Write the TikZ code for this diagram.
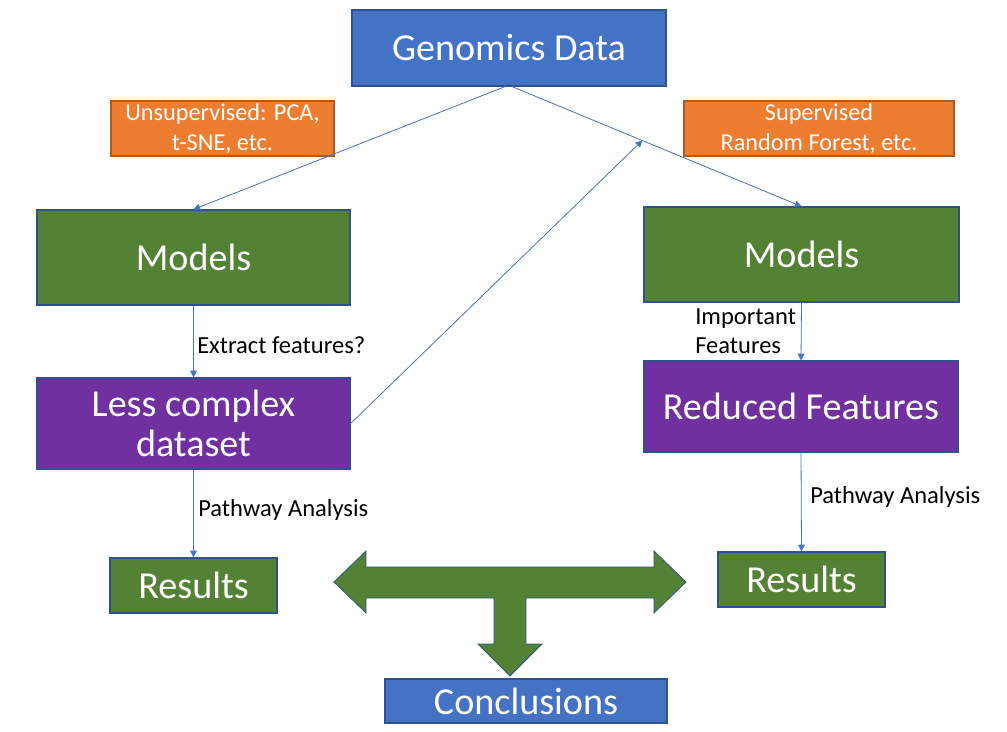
\documentclass[tikz,border=0pt]{standalone}
\usepackage{fontspec}
\setmainfont{Carlito}
\usepackage{tikz}
\usetikzlibrary{calc,arrows.meta}

\definecolor{boxblue}{HTML}{4472C4}
\definecolor{edgeblue}{HTML}{2F528F}
\definecolor{boxgreen}{HTML}{548235}
\definecolor{boxpurple}{HTML}{7030A0}
\definecolor{boxorange}{HTML}{ED7D31}
\definecolor{edgeorange}{HTML}{AE5A21}

\begin{document}
\begin{tikzpicture}[x=0.75pt,y=-0.75pt,
	bigbox/.style={draw=edgeblue,line width=0.9pt,text=white,inner sep=0pt,align=center,font=\fontsize{28.6}{30.5}\selectfont},
	tagbox/.style={draw=edgeorange,fill=boxorange,line width=0.9pt,text=white,inner sep=0pt,align=center,font=\fontsize{18.2}{22}\selectfont},
	flow/.style={draw=boxblue,line width=0.6pt,-{Triangle[width=5pt,length=5pt]}},
	note/.style={anchor=west,inner sep=0pt,align=left,font=\fontsize{18.4}{22}\selectfont}]
	\useasboundingbox (0,0) rectangle (1007,732);

	%boxes
	\node[bigbox,fill=boxblue,minimum width=235.5pt,minimum height=57pt] (gen) at (509,48) {Genomics Data};
	\node[tagbox,minimum width=167.25pt,minimum height=41.25pt] (unsup) at (222.5,128.5) {Unsupervised: PCA,\\t-SNE, etc.};
	\node[tagbox,minimum width=202.5pt,minimum height=41.25pt] (sup) at (819,128.5) {Supervised\\Random Forest, etc.};
	%
	\node[bigbox,fill=boxgreen,minimum width=234.75pt,minimum height=71.25pt] (modL) at (193.5,257.5) {Models};
	\node[bigbox,fill=boxgreen,minimum width=236.25pt,minimum height=71.25pt] (modR) at (801.5,254.5) {Models};
	%
	\node[bigbox,fill=boxpurple,minimum width=234.75pt,minimum height=68.25pt] (less) at (193.5,423.5) {Less complex\\dataset};
	\node[bigbox,fill=boxpurple,minimum width=235.5pt,minimum height=68.25pt] (red) at (801,406.5) {Reduced Features};
	%
	\node[bigbox,fill=boxgreen,minimum width=125.25pt,minimum height=41.25pt] (resL) at (193.5,585.5) {Results};
	\node[bigbox,fill=boxgreen,minimum width=125.25pt,minimum height=41.25pt] (resR) at (801.5,579.5) {Results};
	\node[bigbox,fill=boxblue,minimum width=211.5pt,minimum height=33pt] (concl) at (526,701) {Conclusions};

	%arrows
	\coordinate (genL) at ($(gen.south)+(-4,0)$);
	\coordinate (genR) at ($(gen.south)+(3,0)$);
	\coordinate (meet) at ($(genR)!0.45!(modR.north)$);
	\draw[flow] (genL) -- (modL.north);
	\draw[flow] (genR) -- (modR.north);
	\draw[flow] (less.east) -- (meet);
	\draw[flow] (modL.south) -- (less.north);
	\draw[flow] (less.south) -- (resL.north);
	\draw[flow] (modR.south) -- (red.north);
	\draw[flow] (red.south) -- (resR.north);

	%big arrow
	\filldraw[draw=edgeblue,fill=boxgreen,line width=0.6pt] (334,582) -- (366,551) -- (366,567) -- (654,567) -- (654,551) -- (686,582) -- (654,613) -- (654,598) -- (526,598) -- (526,644) -- (542,644) -- (510,676) -- (478,644) -- (494,644) -- (494,598) -- (366,598) -- (366,613) -- cycle;

	%labels
	\node[note] (lblext) at (197,345) {Extract features?};
	\node[note] (lblpathL) at (198,510) {Pathway Analysis};
	\node[note] (lblimp) at (695,331) {Important\\Features};
	\node[note] (lblpathR) at (810,497) {Pathway Analysis};
\end{tikzpicture}
\end{document}
